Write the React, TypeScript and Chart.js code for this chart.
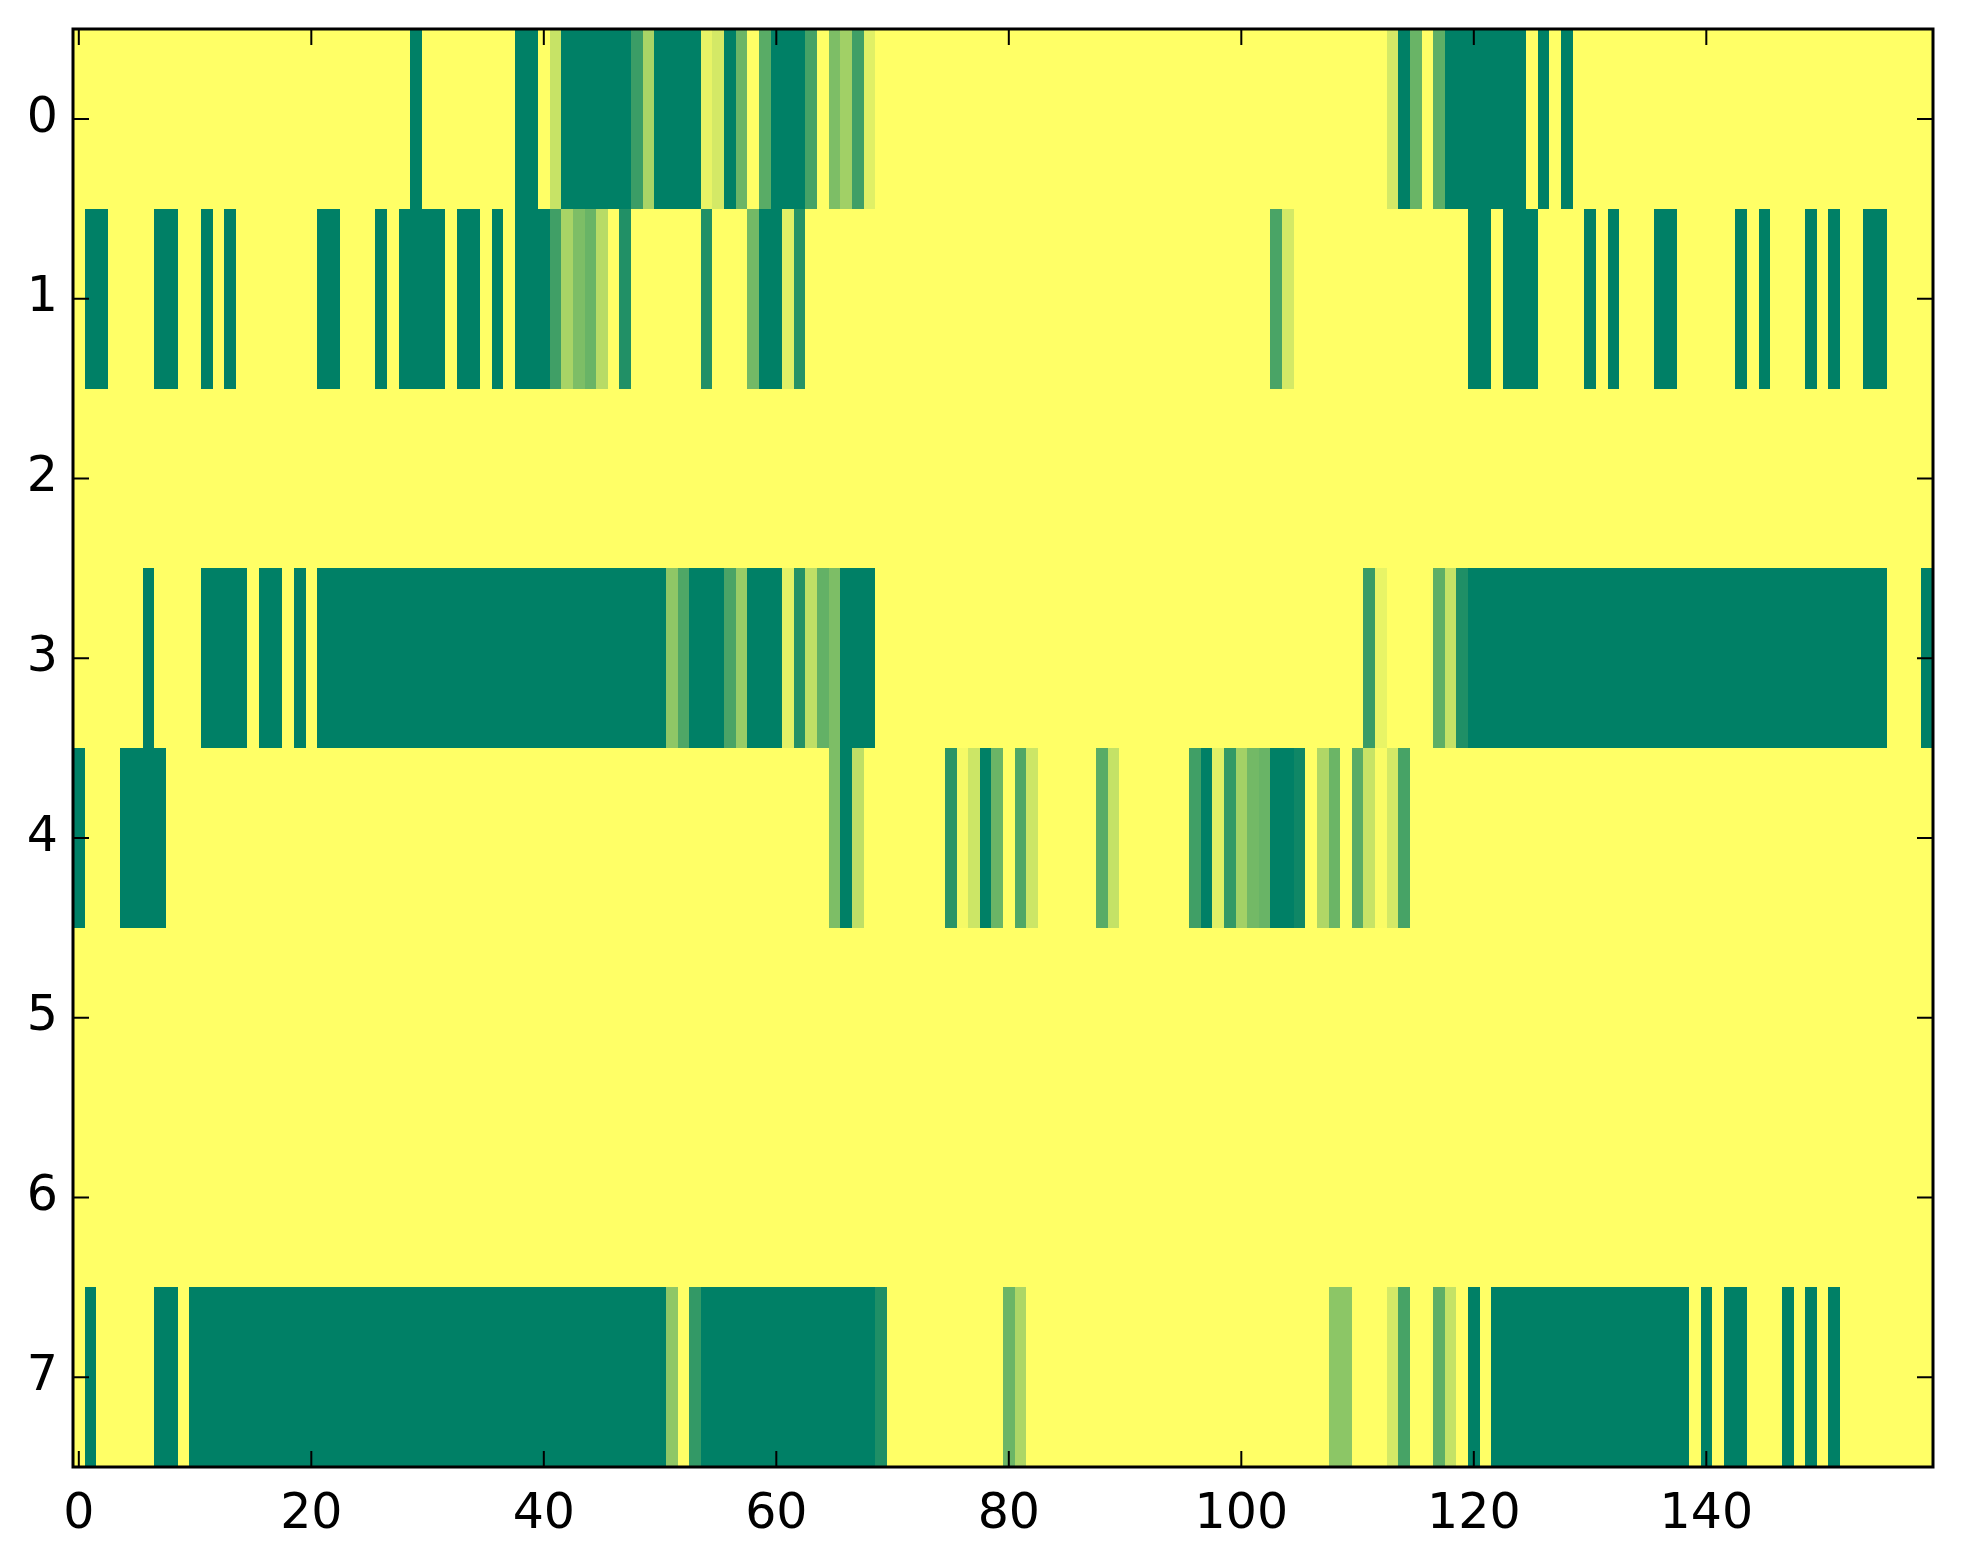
import React, { useEffect, useRef } from "react";
import { Chart, registerables } from "chart.js";

Chart.register(...registerables);

// tick values / labels
const xTickValues = [0, 20, 40, 60, 80, 100, 120, 140];
const yTickValues = [0, 1, 2, 3, 4, 5, 6, 7];
const nCols = 160;

// heat-map rows (values 0..1, "summer" colormap)
const row0 = [
  1, 1, 1, 1, 1, 1, 1, 1, 1, 1, 1, 1, 1, 1, 1, 1, 1, 1, 1, 1,
  1, 1, 1, 1, 1, 1, 1, 1, 1, 0, 1, 1, 1, 1, 1, 1, 1, 1, 0, 0,
  1, 0.78, 0, 0, 0, 0, 0, 0, 0.23, 0.66, 0, 0, 0, 0, 0.91, 0.83, 0, 0.42, 1, 0.35,
  0, 0, 0, 0.27, 1, 0.49, 0.63, 0.25, 0.88, 1, 1, 1, 1, 1, 1, 1, 1, 1, 1, 1,
  1, 1, 1, 1, 1, 1, 1, 1, 1, 1, 1, 1, 1, 1, 1, 1, 1, 1, 1, 1,
  1, 1, 1, 1, 1, 1, 1, 1, 1, 1, 1, 1, 1, 0.83, 0, 0.41, 1, 0.37, 0, 0,
  0, 0, 0, 0, 0, 1, 0, 1, 0, 1, 1, 1, 1, 1, 1, 1, 1, 1, 1, 1,
  1, 1, 1, 1, 1, 1, 1, 1, 1, 1, 1, 1, 1, 1, 1, 1, 1, 1, 1, 1,
];
const row1 = [
  1, 0, 0, 1, 1, 1, 1, 0, 0, 1, 1, 0, 1, 0, 1, 1, 1, 1, 1, 1,
  1, 0, 0, 1, 1, 1, 0, 1, 0, 0, 0, 0, 1, 0, 0, 1, 0, 1, 0, 0,
  0, 0.25, 0.66, 0.49, 0.41, 0.72, 1, 0.13, 1, 1, 1, 1, 1, 1, 0.13, 1, 1, 1, 0.45, 0,
  0, 0.88, 0.15, 1, 1, 1, 1, 1, 1, 1, 1, 1, 1, 1, 1, 1, 1, 1, 1, 1,
  1, 1, 1, 1, 1, 1, 1, 1, 1, 1, 1, 1, 1, 1, 1, 1, 1, 1, 1, 1,
  1, 1, 1, 0.29, 0.83, 1, 1, 1, 1, 1, 1, 1, 1, 1, 1, 1, 1, 1, 1, 1,
  0, 0, 1, 0, 0, 0, 1, 1, 1, 1, 0, 1, 0, 1, 1, 1, 0, 0, 1, 1,
  1, 1, 1, 0, 1, 0, 1, 1, 1, 0, 1, 0, 1, 1, 0, 0, 1, 1, 1, 1,
];
const row2 = [
  1, 1, 1, 1, 1, 1, 1, 1, 1, 1, 1, 1, 1, 1, 1, 1, 1, 1, 1, 1,
  1, 1, 1, 1, 1, 1, 1, 1, 1, 1, 1, 1, 1, 1, 1, 1, 1, 1, 1, 1,
  1, 1, 1, 1, 1, 1, 1, 1, 1, 1, 1, 1, 1, 1, 1, 1, 1, 1, 1, 1,
  1, 1, 1, 1, 1, 1, 1, 1, 1, 1, 1, 1, 1, 1, 1, 1, 1, 1, 1, 1,
  1, 1, 1, 1, 1, 1, 1, 1, 1, 1, 1, 1, 1, 1, 1, 1, 1, 1, 1, 1,
  1, 1, 1, 1, 1, 1, 1, 1, 1, 1, 1, 1, 1, 1, 1, 1, 1, 1, 1, 1,
  1, 1, 1, 1, 1, 1, 1, 1, 1, 1, 1, 1, 1, 1, 1, 1, 1, 1, 1, 1,
  1, 1, 1, 1, 1, 1, 1, 1, 1, 1, 1, 1, 1, 1, 1, 1, 1, 1, 1, 1,
];
const row3 = [
  1, 1, 1, 1, 1, 1, 0, 1, 1, 1, 1, 0, 0, 0, 0, 1, 0, 0, 1, 0,
  1, 0, 0, 0, 0, 0, 0, 0, 0, 0, 0, 0, 0, 0, 0, 0, 0, 0, 0, 0,
  0, 0, 0, 0, 0, 0, 0, 0, 0, 0, 0, 0.56, 0.31, 0, 0, 0, 0.29, 0.6, 0, 0,
  0, 0.89, 0.14, 0.75, 0.39, 0.49, 0, 0, 0, 1, 1, 1, 1, 1, 1, 1, 1, 1, 1, 1,
  1, 1, 1, 1, 1, 1, 1, 1, 1, 1, 1, 1, 1, 1, 1, 1, 1, 1, 1, 1,
  1, 1, 1, 1, 1, 1, 1, 1, 1, 1, 1, 0.22, 0.91, 1, 1, 1, 1, 0.37, 0.77, 0.12,
  0, 0, 0, 0, 0, 0, 0, 0, 0, 0, 0, 0, 0, 0, 0, 0, 0, 0, 0, 0,
  0, 0, 0, 0, 0, 0, 0, 0, 0, 0, 0, 0, 0, 0, 0, 0, 1, 1, 1, 0,
];
const row4 = [
  0, 1, 1, 1, 0, 0, 0, 0, 1, 1, 1, 1, 1, 1, 1, 1, 1, 1, 1, 1,
  1, 1, 1, 1, 1, 1, 1, 1, 1, 1, 1, 1, 1, 1, 1, 1, 1, 1, 1, 1,
  1, 1, 1, 1, 1, 1, 1, 1, 1, 1, 1, 1, 1, 1, 1, 1, 1, 1, 1, 1,
  1, 1, 1, 1, 1, 0.49, 0, 0.75, 1, 1, 1, 1, 1, 1, 1, 0.16, 0.96, 0.8, 0, 0.42,
  1, 0.31, 0.8, 1, 1, 1, 1, 1, 0.35, 0.77, 1, 1, 1, 1, 1, 1, 0.25, 0, 0.88, 0.2,
  0.64, 0.45, 0.41, 0, 0, 0.06, 1, 0.69, 0.42, 1, 0.35, 0.78, 0.98, 0.83, 0.28, 1, 1, 1, 1, 1,
  1, 1, 1, 1, 1, 1, 1, 1, 1, 1, 1, 1, 1, 1, 1, 1, 1, 1, 1, 1,
  1, 1, 1, 1, 1, 1, 1, 1, 1, 1, 1, 1, 1, 1, 1, 1, 1, 1, 1, 1,
];
const row5 = [
  1, 1, 1, 1, 1, 1, 1, 1, 1, 1, 1, 1, 1, 1, 1, 1, 1, 1, 1, 1,
  1, 1, 1, 1, 1, 1, 1, 1, 1, 1, 1, 1, 1, 1, 1, 1, 1, 1, 1, 1,
  1, 1, 1, 1, 1, 1, 1, 1, 1, 1, 1, 1, 1, 1, 1, 1, 1, 1, 1, 1,
  1, 1, 1, 1, 1, 1, 1, 1, 1, 1, 1, 1, 1, 1, 1, 1, 1, 1, 1, 1,
  1, 1, 1, 1, 1, 1, 1, 1, 1, 1, 1, 1, 1, 1, 1, 1, 1, 1, 1, 1,
  1, 1, 1, 1, 1, 1, 1, 1, 1, 1, 1, 1, 1, 1, 1, 1, 1, 1, 1, 1,
  1, 1, 1, 1, 1, 1, 1, 1, 1, 1, 1, 1, 1, 1, 1, 1, 1, 1, 1, 1,
  1, 1, 1, 1, 1, 1, 1, 1, 1, 1, 1, 1, 1, 1, 1, 1, 1, 1, 1, 1,
];
const row6 = [
  1, 1, 1, 1, 1, 1, 1, 1, 1, 1, 1, 1, 1, 1, 1, 1, 1, 1, 1, 1,
  1, 1, 1, 1, 1, 1, 1, 1, 1, 1, 1, 1, 1, 1, 1, 1, 1, 1, 1, 1,
  1, 1, 1, 1, 1, 1, 1, 1, 1, 1, 1, 1, 1, 1, 1, 1, 1, 1, 1, 1,
  1, 1, 1, 1, 1, 1, 1, 1, 1, 1, 1, 1, 1, 1, 1, 1, 1, 1, 1, 1,
  1, 1, 1, 1, 1, 1, 1, 1, 1, 1, 1, 1, 1, 1, 1, 1, 1, 1, 1, 1,
  1, 1, 1, 1, 1, 1, 1, 1, 1, 1, 1, 1, 1, 1, 1, 1, 1, 1, 1, 1,
  1, 1, 1, 1, 1, 1, 1, 1, 1, 1, 1, 1, 1, 1, 1, 1, 1, 1, 1, 1,
  1, 1, 1, 1, 1, 1, 1, 1, 1, 1, 1, 1, 1, 1, 1, 1, 1, 1, 1, 1,
];
const row7 = [
  1, 0, 1, 1, 1, 1, 1, 0, 0, 1, 0, 0, 0, 0, 0, 0, 0, 0, 0, 0,
  0, 0, 0, 0, 0, 0, 0, 0, 0, 0, 0, 0, 0, 0, 0, 0, 0, 0, 0, 0,
  0, 0, 0, 0, 0, 0, 0, 0, 0, 0, 0, 0.56, 1, 0.2, 0, 0, 0, 0, 0, 0,
  0, 0, 0, 0, 0, 0, 0, 0, 0, 0.12, 1, 1, 1, 1, 1, 1, 1, 1, 1, 1,
  0.42, 0.68, 1, 1, 1, 1, 1, 1, 1, 1, 1, 1, 1, 1, 1, 1, 1, 1, 1, 1,
  1, 1, 1, 1, 1, 1, 1, 1, 0.55, 0.55, 1, 1, 1, 0.83, 0.28, 1, 1, 0.37, 0.77, 1,
  0, 1, 0, 0, 0, 0, 0, 0, 0, 0, 0, 0, 0, 0, 0, 0, 0, 0, 0, 1,
  0, 1, 0, 0, 1, 1, 1, 0, 1, 0, 1, 0, 1, 1, 1, 1, 1, 1, 1, 1,
];
const rows = [row0, row1, row2, row3, row4, row5, row6, row7];

const FONT = "'DejaVu Sans', 'Liberation Sans', sans-serif";

function summer(v: number): string {
  const r = Math.round(255 * v);
  const g = Math.round(255 * (0.5 + 0.5 * v));
  return `rgb(${r},${g},102)`;
}

const heatPlugin = {
  id: "heatCells",
  beforeDatasetsDraw(chart: any) {
    const xs = chart.scales.x;
    const ys = chart.scales.y;
    const ctx = chart.ctx;
    const pts = chart.data.datasets[0].data as { x: number; y: number; v: number }[];
    ctx.save();
    for (const p of pts) {
      const x0 = Math.round(xs.getPixelForValue(p.x - 0.5));
      const x1 = Math.round(xs.getPixelForValue(p.x + 0.5));
      const y0 = Math.round(ys.getPixelForValue(p.y - 0.5));
      const y1 = Math.round(ys.getPixelForValue(p.y + 0.5));
      ctx.fillStyle = summer(p.v);
      ctx.fillRect(Math.min(x0, x1), Math.min(y0, y1), Math.abs(x1 - x0), Math.abs(y1 - y0));
    }
    ctx.restore();
  },
  afterDraw(chart: any) {
    const { left, right, top, bottom } = chart.chartArea;
    const xs = chart.scales.x;
    const ys = chart.scales.y;
    const ctx = chart.ctx;
    ctx.save();
    ctx.strokeStyle = "#000";
    ctx.lineWidth = 2;
    const tl = 16;
    ctx.beginPath();
    for (const v of xTickValues) {
      const px = xs.getPixelForValue(v);
      ctx.moveTo(px, bottom);
      ctx.lineTo(px, bottom - tl);
      ctx.moveTo(px, top);
      ctx.lineTo(px, top + tl);
    }
    for (const v of yTickValues) {
      const py = ys.getPixelForValue(v);
      ctx.moveTo(left, py);
      ctx.lineTo(left + tl, py);
      ctx.moveTo(right, py);
      ctx.lineTo(right - tl, py);
    }
    ctx.stroke();
    ctx.lineWidth = 3;
    ctx.strokeRect(left, top, right - left, bottom - top);
    ctx.restore();
  },
};

export default function App() {
  const canvasRef = useRef<HTMLCanvasElement | null>(null);

  useEffect(() => {
    if (!canvasRef.current) return;
    const cells: { x: number; y: number; v: number }[] = [];
    rows.forEach((row, r) => {
      row.forEach((v, c) => {
        if (c < nCols) cells.push({ x: c, y: r, v });
      });
    });

    const chart = new Chart(canvasRef.current, {
      type: "scatter",
      data: {
        datasets: [
          {
            data: cells as any,
            pointRadius: 0,
            pointHoverRadius: 0,
            showLine: false,
          },
        ],
      },
      options: {
        animation: false,
        responsive: false,
        devicePixelRatio: 1,
        events: [],
        layout: { padding: { top: 29, right: 30, left: 0, bottom: 0 } },
        plugins: { legend: { display: false }, tooltip: { enabled: false } },
        scales: {
          x: {
            type: "linear",
            min: -0.5,
            max: nCols - 0.5,
            grid: { display: false, drawTicks: false },
            border: { display: false },
            afterBuildTicks: (scale: any) => {
              scale.ticks = xTickValues.map((v) => ({ value: v }));
            },
            afterFit: (scale: any) => {
              scale.height = 97;
              scale.paddingLeft = 0;
              scale.paddingRight = 0;
            },
            ticks: {
              autoSkip: false,
              maxRotation: 0,
              padding: 19,
              color: "#000",
              font: { family: FONT, size: 49 },
              callback: (v: any) => String(v),
            },
          },
          y: {
            type: "linear",
            reverse: true,
            min: -0.5,
            max: 7.5,
            grid: { display: false, drawTicks: false },
            border: { display: false },
            afterBuildTicks: (scale: any) => {
              scale.ticks = yTickValues.map((v) => ({ value: v }));
            },
            afterFit: (scale: any) => {
              scale.width = 73;
              scale.paddingTop = 0;
              scale.paddingBottom = 0;
            },
            ticks: {
              autoSkip: false,
              padding: 15,
              color: "#000",
              font: { family: FONT, size: 49 },
              callback: (v: any) => String(v),
            },
          },
        },
      },
      plugins: [heatPlugin],
    });
    return () => chart.destroy();
  }, []);

  return (
    <div
      style={{
        position: "absolute",
        left: 0,
        top: 0,
        width: 1963,
        height: 1564,
        background: "#fff",
      }}
    >
      <canvas ref={canvasRef} width={1963} height={1564} style={{ width: 1963, height: 1564, display: "block" }} />
    </div>
  );
}
